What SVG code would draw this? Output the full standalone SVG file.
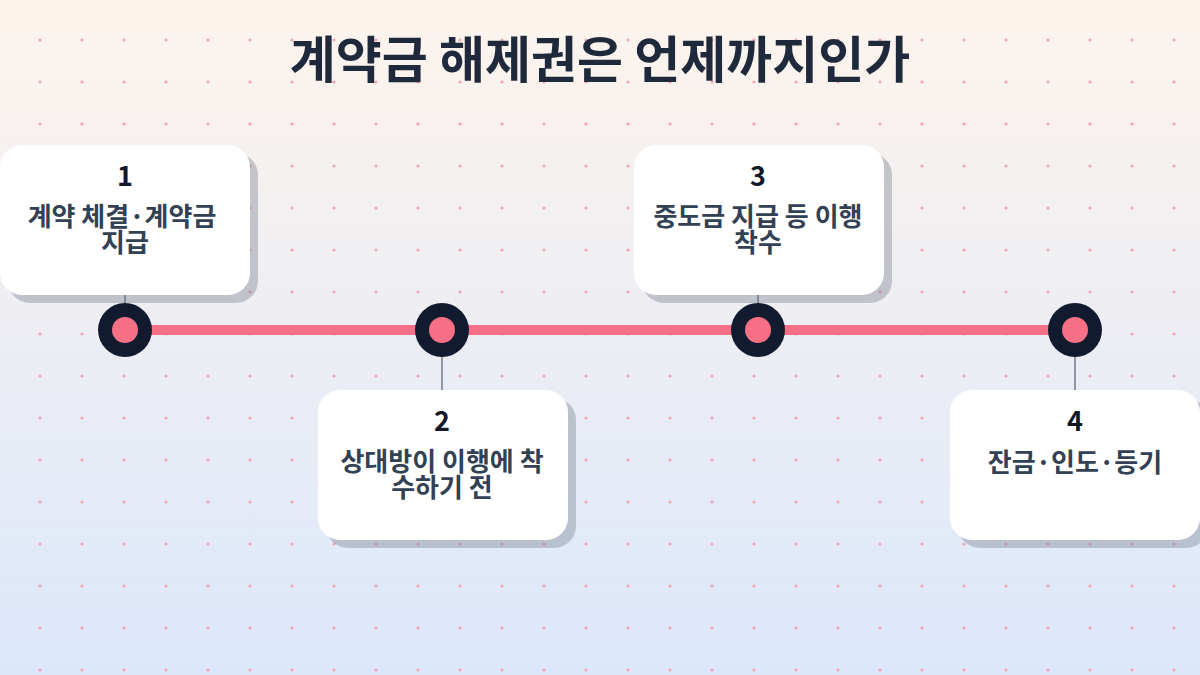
<svg xmlns="http://www.w3.org/2000/svg" width="1200" height="675" viewBox="0 0 1200 675">
<defs>
<linearGradient id="bg" x1="0" y1="0" x2="0" y2="1"><stop offset="0" stop-color="#fdf4ec"/><stop offset="1" stop-color="#dce7fb"/></linearGradient>
<pattern id="dots" x="0" y="0" width="42" height="42" patternUnits="userSpaceOnUse"><circle cx="40" cy="40" r="1.6" fill="#f5a3b4"/></pattern>
</defs>
<style>
.card{fill:#fff}
.sh{fill:#6b7280;opacity:0.35}
.num{font-family:"Noto Sans CJK KR","Noto Sans",sans-serif;font-weight:700;font-size:27px;fill:#111827;text-anchor:middle}
.lbl{font-family:"Noto Sans CJK KR",sans-serif;font-weight:700;font-size:26px;fill:#334155;text-anchor:middle}
.ring{fill:#111a2e}
.core{fill:#f87085}
.con{stroke:#334155;stroke-width:1}
</style>
<rect width="1200" height="675" fill="url(#bg)"/>
<rect width="1200" height="675" fill="url(#dots)"/>
<text x="600" y="78" font-family="Noto Sans CJK KR,sans-serif" font-weight="700" font-size="50" fill="#1e293b" text-anchor="middle">계약금 해제권은 언제까지인가</text>
<g id="connectors">
<line x1="125" y1="330" x2="1075" y2="330" stroke="#f87085" stroke-width="10"/>
<line class="con" x1="125" y1="295" x2="125" y2="310"/>
<line class="con" x1="442" y1="350" x2="442" y2="390"/>
<line class="con" x1="758" y1="295" x2="758" y2="310"/>
<line class="con" x1="1075" y1="350" x2="1075" y2="390"/>
</g>
<g id="m1"><circle class="ring" cx="125" cy="330" r="27"/><circle class="core" cx="125" cy="330" r="13"/></g>
<g id="m2"><circle class="ring" cx="442" cy="330" r="27"/><circle class="core" cx="442" cy="330" r="13"/></g>
<g id="m3"><circle class="ring" cx="758" cy="330" r="27"/><circle class="core" cx="758" cy="330" r="13"/></g>
<g id="m4"><circle class="ring" cx="1075" cy="330" r="27"/><circle class="core" cx="1075" cy="330" r="13"/></g>
<g id="n1"><rect class="sh" x="8" y="153" width="250" height="150" rx="22"/><rect class="card" x="0" y="145" width="250" height="150" rx="22"/>
<text class="num" x="125" y="186">1</text><text class="lbl" x="122" y="226">계약 체결·계약금</text><text class="lbl" x="125" y="252">지급</text></g>
<g id="n2"><rect class="sh" x="326" y="398" width="250" height="150" rx="22"/><rect class="card" x="318" y="390" width="250" height="150" rx="22"/>
<text class="num" x="442" y="431">2</text><text class="lbl" x="442" y="471">상대방이 이행에 착</text><text class="lbl" x="442" y="497">수하기 전</text></g>
<g id="n3"><rect class="sh" x="642" y="153" width="250" height="150" rx="22"/><rect class="card" x="634" y="145" width="250" height="150" rx="22"/>
<text class="num" x="758" y="186">3</text><text class="lbl" x="758" y="226">중도금 지급 등 이행</text><text class="lbl" x="758" y="252">착수</text></g>
<g id="n4"><rect class="sh" x="958" y="398" width="250" height="150" rx="22"/><rect class="card" x="950" y="390" width="250" height="150" rx="22"/>
<text class="num" x="1075" y="431">4</text><text class="lbl" x="1075" y="472">잔금·인도·등기</text></g>
</svg>
